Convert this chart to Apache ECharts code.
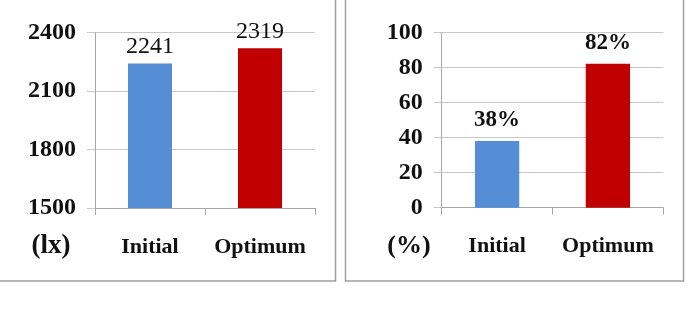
<!DOCTYPE html>
<html><head><meta charset="utf-8">
<script src="https://cdn.jsdelivr.net/npm/echarts@6/dist/echarts.min.js"></script>
<style>html,body{margin:0;padding:0;background:#fff}#c{width:689px;height:309px}</style>
</head><body><div id="c"></div>
<script>
const categories = ['Initial', 'Optimum'];
const illuminanceValues = [2241, 2319];
const percentValues = [38, 82];
const illumTicks = {min: 1500, max: 2400, interval: 300};
const pctTicks = {min: 0, max: 100, interval: 20};
const barColors = ['#558ED5', '#C00000'];
const unitLeft = '(lx)';
const unitRight = '(%)';

const FONT = 'Liberation Serif';
const axisCol = '#A6A6A6';
const gridCol = '#C8C8C8';

function xAxis(gi){
  return {type:'category', gridIndex:gi, data:categories,
    axisLine:{lineStyle:{color:axisCol,width:1}},
    axisTick:{show:true,length:7,lineStyle:{color:axisCol}},
    axisLabel:{interval:0, hideOverlap:false, fontFamily:FONT,fontWeight:'bold',fontSize:22,color:'#111',margin:28}};
}
function yAxis(gi, t){
  return {type:'value', gridIndex:gi, min:t.min, max:t.max, interval:t.interval,
    axisLine:{show:true,lineStyle:{color:axisCol,width:1}},
    axisTick:{show:true,length:8,lineStyle:{color:gridCol}},
    splitLine:{lineStyle:{color:gridCol,width:1}},
    axisLabel:{formatter:(v)=>String(v), fontFamily:FONT,fontWeight:'bold',fontSize:24,color:'#111',margin:19}};
}
function dataWithColors(vals){
  return vals.map((v,i)=>({value:v,itemStyle:{color:barColors[i]}}));
}
const chart = echarts.init(document.getElementById('c'), null, {renderer:'canvas'});
chart.setOption({
  animation:false,
  grid:[
    {left:95, right:374, top:32.5, bottom:101},
    {left:441.7, right:25.7, top:32.3, bottom:101.3}
  ],
  xAxis:[xAxis(0), xAxis(1)],
  yAxis:[yAxis(0, illumTicks), yAxis(1, pctTicks)],
  series:[
    {type:'bar', xAxisIndex:0, yAxisIndex:0, data:dataWithColors(illuminanceValues), barWidth:'40%',
      label:{show:true, position:'top', distance:5, fontFamily:FONT, fontSize:24, color:'#111', formatter:(p)=>String(p.value)}},
    {type:'bar', xAxisIndex:1, yAxisIndex:1, data:dataWithColors(percentValues), barWidth:'40%',
      label:{show:true, position:'top', distance:9, fontFamily:FONT, fontWeight:'bold', fontSize:23, color:'#111', formatter:'{c}%'}}
  ],
  graphic:[
    {type:'rect', shape:{x:-5, y:-5, width:340.5, height:286}, style:{fill:'none', stroke:'#A0A0A0', lineWidth:1.5}},
    {type:'rect', shape:{x:345.5, y:-5, width:338, height:286}, style:{fill:'none', stroke:'#A0A0A0', lineWidth:1.5}},
    {type:'text', x:51, y:246, style:{text:unitLeft, font:'bold 27px "Liberation Serif"', fill:'#111', align:'center', verticalAlign:'middle'}},
    {type:'text', x:409, y:246, style:{text:unitRight, font:'bold 26px "Liberation Serif"', fill:'#111', align:'center', verticalAlign:'middle'}}
  ]
});
</script></body></html>
